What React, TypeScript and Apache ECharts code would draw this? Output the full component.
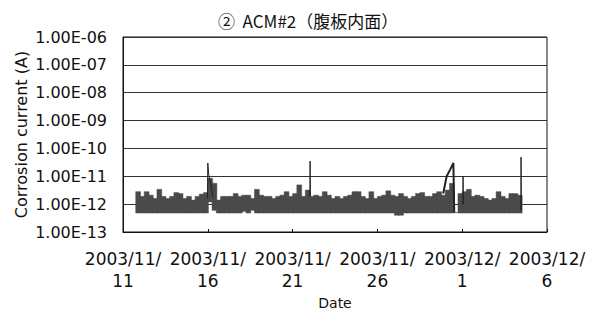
import React, { useEffect, useRef } from "react";
import * as echarts from "echarts";

// Time axis: days after 2003/11/11 00:00
const xTickLabels = ["2003/11/\n11", "2003/11/\n16", "2003/11/\n21", "2003/11/\n26", "2003/12/\n1", "2003/12/\n6"];
const yTickLabels = ["1.00E-13", "1.00E-12", "1.00E-11", "1.00E-10", "1.00E-09", "1.00E-08", "1.00E-07", "1.00E-06"];

// Band of the dense hourly record, read as 6-hour bins (upper and lower envelope, A)
const bandStartDay = 0.75;
const bandBinDays = 0.25;
const bandHigh = [
  2.8e-12, 1.9e-12, 2.8e-12, 2.1e-12, 1.6e-12, 3.4e-12, 1.9e-12, 1.6e-12, 1.9e-12, 2.6e-12,
  2.4e-12, 1.6e-12, 1.9e-12, 1.4e-12, 1.9e-12, 2.3e-12, 2.6e-12, 8.5e-12, 5.6e-12, 1.4e-12,
  1.9e-12, 1.9e-12, 1.9e-12, 2.4e-12, 1.9e-12, 2.1e-12, 2.1e-12, 1.6e-12, 3.4e-12, 2.1e-12,
  1.9e-12, 1.9e-12, 1.6e-12, 1.9e-12, 2.1e-12, 2.8e-12, 1.9e-12, 2.4e-12, 4.9e-12, 1.9e-12,
  3.2e-12, 1.9e-12, 2.1e-12, 1.9e-12, 2.8e-12, 2.1e-12, 1.6e-12, 1.9e-12, 1.6e-12, 1.9e-12,
  2.1e-12, 2.8e-12, 2.8e-12, 1.9e-12, 1.6e-12, 2.8e-12, 1.6e-12, 1.9e-12, 2.1e-12, 3.0e-12,
  2.1e-12, 1.9e-12, 2.4e-12, 1.9e-12, 1.6e-12, 1.9e-12, 2.4e-12, 2.6e-12, 1.9e-12, 1.9e-12,
  2.4e-12, 2.8e-12, 2.1e-12, 3.2e-12, 5.6e-12, 5.0e-13, 2.4e-12, 2.8e-12, 3.4e-12, 1.9e-12,
  2.1e-12, 1.9e-12, 1.6e-12, 1.4e-12, 1.6e-12, 2.8e-12, 1.9e-12, 1.6e-12, 2.4e-12, 2.4e-12,
  2.1e-12,
];
const bandLow = [
  4.8e-13, 4.8e-13, 4.8e-13, 4.8e-13, 4.8e-13, 4.8e-13, 4.8e-13, 4.8e-13, 4.8e-13, 4.8e-13,
  4.8e-13, 4.8e-13, 4.8e-13, 4.8e-13, 4.8e-13, 4.8e-13, 4.8e-13, 1.2e-12, 6.0e-13, 4.8e-13,
  4.8e-13, 4.8e-13, 4.8e-13, 4.8e-13, 4.8e-13, 5.5e-13, 4.8e-13, 6.0e-13, 4.8e-13, 4.8e-13,
  4.8e-13, 4.8e-13, 4.8e-13, 4.8e-13, 4.8e-13, 4.8e-13, 4.8e-13, 4.8e-13, 4.8e-13, 4.8e-13,
  4.8e-13, 4.8e-13, 4.8e-13, 4.8e-13, 4.8e-13, 4.8e-13, 4.8e-13, 4.8e-13, 4.8e-13, 4.8e-13,
  4.8e-13, 4.8e-13, 4.8e-13, 4.8e-13, 4.8e-13, 4.8e-13, 4.8e-13, 4.8e-13, 4.8e-13, 4.8e-13,
  4.8e-13, 4.0e-13, 4.0e-13, 4.8e-13, 4.8e-13, 4.8e-13, 4.8e-13, 4.8e-13, 4.8e-13, 4.8e-13,
  4.8e-13, 4.8e-13, 4.8e-13, 4.8e-13, 4.8e-13, 5.0e-13, 4.8e-13, 4.8e-13, 4.8e-13, 4.8e-13,
  4.8e-13, 4.8e-13, 4.8e-13, 4.8e-13, 4.8e-13, 4.8e-13, 4.8e-13, 4.8e-13, 4.8e-13, 4.8e-13,
  4.8e-13,
];

// Sharp excursions drawn as lines: [day, current A]
const spike1 = [[4.98, 1.6e-12], [5.0, 3.0e-11], [5.05, 1.2e-11], [5.1, 8.0e-12], [5.18, 5.5e-12], [5.3, 1.8e-12]];
const spike2 = [[11.02, 1.9e-12], [11.03, 3.5e-11], [11.05, 1.9e-12]];
const ramp = [[18.88, 2.4e-12], [19.08, 9.8e-12], [19.28, 1.7e-11], [19.48, 3.0e-11], [19.53, 5.0e-13]];
const spike3 = [[20.04, 1.0e-12], [20.05, 1.0e-11], [20.07, 1.0e-12]];
const spike4 = [[23.46, 6.0e-13], [23.47, 4.9e-11], [23.49, 6.0e-13]];

export default function App() {
  const ref = useRef<HTMLDivElement>(null);
  useEffect(() => {
    if (!ref.current) return;
    const chart = echarts.init(ref.current, undefined, { renderer: "svg" });
    const bandData = bandHigh.map((h, i) => [
      bandStartDay + i * bandBinDays,
      bandStartDay + (i + 1) * bandBinDays,
      bandLow[i],
      h,
    ]);
    const lineSeries = (data: number[][], width = 1) => ({
      type: "line",
      data,
      showSymbol: false,
      symbol: "none",
      lineStyle: { color: "#222", width },
      z: 3,
    });
    const fontFamily = "DejaVu Sans";
    chart.setOption({
      animation: false,
      backgroundColor: "#fff",
      title: {
        text: "②  ACM#2（腹板内面）",
        left: 213,
        top: 7,
        textStyle: { fontFamily: "Noto Sans CJK JP", fontSize: 17, fontWeight: "normal", color: "#111" },
      },
      grid: {
        left: 123,
        right: 48,
        top: 37,
        bottom: 79,
        show: true,
        borderColor: "#111",
        borderWidth: 1,
        containLabel: false,
        outerBoundsMode: "none",
      },
      xAxis: {
        type: "value",
        min: 0,
        max: 25,
        interval: 5,
        name: "Date",
        nameLocation: "middle",
        nameGap: 71,
        nameMoveOverlap: false,
        nameTextStyle: { fontFamily, fontSize: 14, color: "#111", verticalAlign: "middle" },
        axisLine: { lineStyle: { color: "#111" } },
        axisTick: { show: true, inside: true, length: 3, lineStyle: { color: "#111" } },
        splitLine: { show: false },
        axisLabel: {
          fontFamily,
          fontSize: 17,
          color: "#111",
          lineHeight: 22,
          margin: 16,
          formatter: (v: number) => xTickLabels[Math.round(v / 5)] ?? "",
        },
      },
      yAxis: {
        type: "log",
        logBase: 10,
        min: 1e-13,
        max: 1e-6,
        name: "Corrosion current (A)",
        nameLocation: "middle",
        nameGap: 102,
        nameMoveOverlap: false,
        nameTextStyle: { fontFamily, fontSize: 16, color: "#111", verticalAlign: "middle" },
        axisLine: { show: true, lineStyle: { color: "#111" } },
        axisTick: { show: false },
        splitLine: { show: true, lineStyle: { color: "#333", width: 1 } },
        axisLabel: {
          fontFamily,
          fontSize: 16,
          color: "#111",
          margin: 16,
          formatter: (v: number) => yTickLabels[Math.round(Math.log10(v)) + 13] ?? "",
        },
      },
      series: [
        {
          type: "custom",
          data: bandData,
          encode: { x: [0, 1], y: [2, 3] },
          z: 2,
          renderItem: (_params: any, api: any) => {
            const p0 = api.coord([api.value(0), api.value(3)]);
            const p1 = api.coord([api.value(1), api.value(2)]);
            return {
              type: "rect",
              shape: { x: p0[0], y: p0[1], width: p1[0] - p0[0] + 0.6, height: p1[1] - p0[1] },
              style: { fill: "#4a4a4a", stroke: "#4a4a4a", lineWidth: 0.5 },
            };
          },
        },
        lineSeries(spike1),
        lineSeries(spike2),
        lineSeries(ramp, 2),
        lineSeries(spike3),
        lineSeries(spike4),
      ],
    });
    return () => chart.dispose();
  }, []);
  return <div ref={ref} style={{ position: "fixed", left: 0, top: 0, width: 595, height: 311 }} />;
}
